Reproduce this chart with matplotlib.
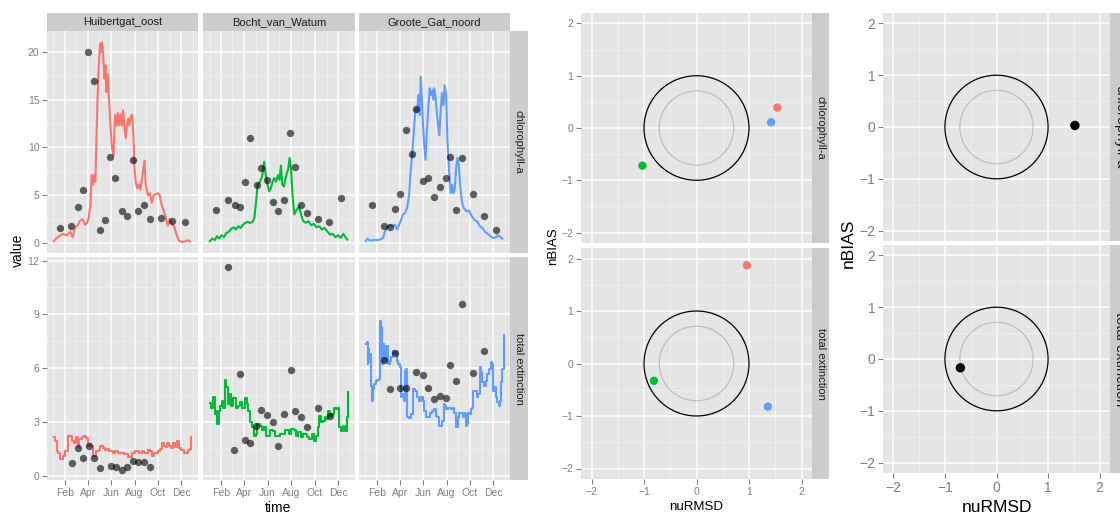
import numpy as np
import matplotlib
matplotlib.use("Agg")
import matplotlib.pyplot as plt
import matplotlib.dates as mdates
from matplotlib.ticker import MultipleLocator

plt.rcParams['font.family'] = ['Liberation Sans', 'DejaVu Sans']

# ---------------------------------------------------------------- data
stations = ['Huibertgat_oost', 'Bocht_van_Watum', 'Groote_Gat_noord']
variables = ['chlorophyll-a', 'total extinction']
station_colors = ['#F8766D', '#00BA38', '#619CFF']

# model series (day of year, value)
chl_hub_day = [0.5, 11, 24, 35, 44, 50, 56, 63, 69, 76, 82.5, 88, 92, 96.5, 100, 103, 107, 109.5, 113, 116,
               118, 122, 124, 127, 130, 133, 136, 138, 142, 144.5, 149, 153, 157, 161, 164.5, 168, 171.5, 175,
               178.5, 182, 185.5, 189, 191.5, 195, 198.5, 202, 205.5, 209, 212, 215, 219, 223, 227.5, 232, 235,
               238, 241, 247, 252, 257, 262, 268, 273, 278, 281.5, 287, 292, 299, 304, 310, 316, 323, 329.5,
               341, 350, 357]
chl_hub_val = [0.17, 0.6, 0.94, 0.8, 1.15, 0.6, 1.57, 1.84, 2.3, 2.5, 1.9, 2.1, 2.6, 4.0, 7.1, 6.1, 7.1, 6.4, 12, 16.2,
               18.3, 20.9, 20, 21, 19.7, 17.2, 18.6, 15.8, 17.7, 15.5, 12.3, 9.9, 9.2, 13.4, 12.3, 13.6, 12.3, 13.5,
               12.3, 13.9, 12, 11, 12, 13, 12.3, 13.2, 13.4, 11.3, 7.8, 6.4, 5.7, 6.1, 5.6, 6.8, 7.8,
               8.6, 6.1, 5.0, 5.2, 4.2, 5.0, 5.1, 5.2, 5.0, 4.2, 3.5, 2.9, 1.8, 2.5, 2.0, 1.7, 0.7, 0.17,
               0.1, 0.28, 0.17]
chl_bvw_day = [0.5, 7.4, 13.5, 19.6, 25, 31, 37, 44, 51, 57, 63, 68.5, 74.6, 81, 86, 92, 99, 105, 112, 116.5,
               121, 125, 131, 136.6, 142, 146, 150.6, 155, 159, 163.7, 168, 173, 177.7, 182, 185.5, 189, 193.4,
               197.7, 201, 204.7, 208, 211.7, 215, 220, 227, 232.7, 237, 243, 250, 257, 264, 271, 278, 285, 292,
               299, 306, 313, 320, 327, 334, 341, 348, 353, 358]
chl_bvw_val = [0.17, 0.45, 0.3, 0.7, 0.45, 0.8, 0.6, 1.04, 1.2, 1.5, 1.63, 1.4, 1.74, 1.57, 1.84, 2.09, 2.2, 2.09, 2.2, 2.6,
               4.35, 6.1, 6.4, 6.96, 8.5, 7.1, 6.1, 5.4, 5.7, 6.37, 6.8, 6.4, 7.1, 6.6, 8.1, 6.1, 5.9,
               6.8, 7.3, 7.8, 8.9, 7.8, 5.4, 3.0, 3.5, 3.8, 3.1, 2.3, 2.1, 2.26, 1.84, 2.0, 1.63, 1.74, 1.4,
               1.57, 1.2, 0.87, 0.94, 0.6, 0.8, 0.52, 0.94, 0.6, 0.35]
chl_ggn_day = [0.5, 5, 11, 22, 35, 46, 51, 57, 63, 70, 77, 82.5, 88, 93, 98, 103, 108.7, 114, 118, 122.7,
               127, 131, 135, 138, 142, 144.5, 147, 150, 153, 157, 160, 164.6, 168, 171.5, 175, 178, 180, 184,
               187, 191, 193, 197, 200, 204, 207, 211, 214, 218.7, 223, 227, 230, 233.5, 237, 240.5, 244, 247.5,
               252, 257, 264, 271, 278, 285, 292, 299, 306, 313, 320, 327, 334, 341, 348, 353, 358]
chl_ggn_val = [0.17, 0.45, 0.24, 0.3, 0.3, 0.52, 1.2, 1.63, 1.84, 1.74, 1.9, 1.4, 1.9, 2.4, 2.96, 3.1, 3.65, 5.0, 7.5, 9.6,
               12, 14.1, 13.7, 15.5, 13.4, 17.4, 15.5, 12.7, 10.6, 8.7, 11.3, 14.4, 16.2, 15.5, 16, 15, 16.2, 15,
               13.4, 12, 11.3, 14.1, 15.7, 14.4, 16.5, 15.5, 11, 7.5, 5.2, 6.1, 5.2, 5.7, 7.8, 8.9, 8.2, 6.1,
               4.35, 3.65, 3.3, 3.37, 2.8, 2.4, 2.26, 1.74, 1.57, 1.15, 0.94, 0.7, 0.52, 0.6, 0.8, 0.6, 0.45]

ext_hub_day = [0.5, 5, 8, 12.7, 18, 24, 30, 35, 39, 46, 49, 54.6, 58, 63, 67, 74, 79, 84, 89.5, 93,
               98, 103.5, 109, 112, 119, 122.7, 129.6, 135, 140, 145, 150.6, 156, 161, 168, 175, 180, 185.5,
               191, 196, 201, 205, 212, 217, 224, 231, 236, 241, 247, 252, 257, 262, 267.6, 273, 278, 283,
               288.5, 294, 297, 302.5, 308, 313, 318, 323.5, 329, 334, 341, 346, 351, 356.6, 360]
ext_hub_val = [2.18, 1.95, 1.4, 1.3, 0.93, 1.12, 1.4, 1.4, 2.23, 2.23, 1.95, 1.86, 2.14, 1.62, 2.05, 2.18, 2.23, 2.1, 1.67, 1.77,
               1.67, 1.12, 1.12, 1.4, 1.43, 1.67, 1.58, 1.43, 1.49, 1.36, 1.36, 1.25, 1.36, 1.25, 1.25, 1.3, 1.21,
               1.21, 1.06, 1.06, 1.3, 1.4, 1.36, 1.3, 1.4, 1.3, 1.25, 1.43, 1.36, 1.12, 1.3, 1.25, 1.4, 1.49, 1.86,
               1.67, 1.62, 1.86, 1.67, 1.58, 1.86, 1.62, 1.95, 1.58, 1.43, 1.25, 1.25, 1.43, 1.49, 2.14]
ext_bvw_day = [0.5, 5, 9, 13.5, 18, 20.5, 24, 28.4, 33, 36, 40, 44, 48.5, 53, 57, 62, 67.7, 74.6, 80, 85,
               92, 96.5, 101, 104, 109.6, 114.8, 120, 123.6, 130.5, 135.8, 141, 146, 151.5, 157, 163.7, 170.7,
               177.7, 183, 189.9, 195, 200, 205.6, 212.6, 219.6, 225, 230, 237, 242, 249, 254.5, 259.7, 265,
               272, 275.4, 280.7, 284, 289.4, 294.6, 300, 303, 308.6, 312, 317, 322.6, 327.8, 333, 336.6,
               341.8, 347, 352, 356, 359, 361]
ext_bvw_val = [4.04, 3.8, 4.37, 3.44, 3.63, 2.88, 3.63, 3.9, 4.19, 3.81, 5.34, 4.93, 4.0, 4.56, 3.9, 4.33, 3.81, 3.9, 4.09, 3.81,
               4.33, 4.0, 3.63, 2.98, 2.7, 2.23, 2.33, 2.88, 2.79, 2.55, 2.7, 2.23, 2.23, 2.55, 2.51, 2.23,
               2.23, 2.36, 2.33, 2.55, 2.55, 2.33, 2.6, 2.55, 2.23, 2.42, 2.14, 2.33, 2.36, 2.18, 2.05, 2.33,
               1.95, 2.23, 2.7, 3.35, 2.98, 3.07, 3.26, 3.16, 3.63, 3.35, 3.44, 3.78, 3.72, 3.78, 2.7,
               2.51, 2.79, 2.51, 3.26, 3.44, 4.65]
ext_ggn_day = [0.5, 3, 5.7, 7.4, 10, 12.7, 15.3, 18, 20.5, 23, 26.6, 30, 35, 38, 40.6, 43, 46, 49, 53, 56,
               59.8, 63, 67, 70.7, 74, 77, 82.5, 86, 89.5, 93, 96.5, 100, 103.5, 107, 109.6, 114, 119, 124.4,
               129.6, 135, 140, 145, 150.6, 154, 159, 164.6, 170, 175, 180, 183.8, 187, 191, 196, 201, 204.7,
               208, 211.7, 217, 224, 229, 232.7, 236, 241, 245, 250, 255, 259, 262, 266, 269, 272.8, 276,
               279.8, 281.5, 286.8, 292, 295.5, 299, 302.5, 306, 310, 314.7, 319, 323.5, 327, 330, 334,
               337.4, 341, 344, 348, 351, 355, 358, 361]
ext_ggn_val = [7.35, 7.44, 6.23, 7.07, 6.33, 6.79, 5.02, 4.19, 4.84, 5.12, 5.3, 5.34, 5.4, 8.65, 8.28, 6.23, 7.35, 6.42, 7.26, 7.26,
               6.23, 6.42, 6.6, 6.98, 6.79, 6.88, 6.42, 6.23, 6.05, 4.37, 4.56, 4.19, 5.86, 5.95, 3.26, 3.22, 3.44, 4.84,
               4.74, 4.37, 4.19, 4.37, 4.19, 3.63, 3.26, 3.26, 3.53, 3.63, 3.72, 3.35, 3.26, 2.79, 2.79, 3.07, 4.0,
               3.9, 3.72, 3.78, 3.72, 3.78, 3.48, 2.7, 3.26, 3.53, 3.48, 3.26, 3.53, 2.79, 2.88, 3.48, 3.44, 3.72,
               3.81, 4.74, 4.74, 4.37, 4.56, 6.05, 5.77, 5.21, 5.02, 5.3, 5.67, 5.95, 6.33, 6.23, 4.74,
               4.93, 4.37, 4.09, 3.9, 4.19, 5.21, 5.95, 7.87]

# observations (day of year, value)
obs_chl_hub_day = [17, 46, 63, 78, 89.5, 105, 121, 134, 149, 162, 178, 192.5, 209, 220.5, 236, 252, 281, 309, 343]
obs_chl_hub_val = [1.57, 1.77, 3.76, 5.57, 20.0, 17.0, 1.39, 2.37, 8.97, 6.78, 3.3, 2.78, 8.66, 3.37, 4.0, 2.5, 2.57, 2.26, 2.19]
obs_chl_bvw_day = [18, 47.6, 65, 79, 92, 105, 122.7, 134, 150, 164, 178.5, 194, 210, 222, 238, 253.6, 282, 311, 342]
obs_chl_bvw_val = [3.48, 4.52, 4.0, 3.76, 6.4, 11.0, 6.1, 7.83, 6.57, 4.28, 3.3, 4.45, 11.5, 7.9, 4.0, 3.1, 2.5, 2.23, 4.7]
obs_chl_ggn_day = [18, 47.6, 63, 77, 91, 105, 122, 133, 150, 164, 178.5, 194, 210, 222, 238, 253.6, 281.5, 311, 342.6]
obs_chl_ggn_val = [4.0, 1.77, 1.67, 3.6, 5.1, 11.8, 9.3, 14.0, 6.5, 6.8, 4.8, 5.9, 6.85, 9.0, 3.48, 8.9, 5.1, 2.78, 1.32]
obs_ext_hub_day = [47.6, 63, 78, 92, 105, 121, 150, 163, 178.5, 193, 208, 222, 238, 252]
obs_ext_hub_val = [0.74, 1.53, 1.02, 1.66, 0.97, 0.43, 0.54, 0.47, 0.32, 0.47, 0.84, 0.8, 0.8, 0.47]
obs_ext_bvw_day = [46.7, 64, 79, 91, 105, 120, 133, 149.7, 163.7, 178.5, 193, 211, 221, 238, 252.7, 282, 312]
obs_ext_bvw_val = [11.63, 1.43, 5.66, 1.99, 1.86, 2.79, 3.68, 3.39, 3.01, 1.64, 3.44, 5.88, 3.61, 3.26, 2.75, 3.81, 3.33]
obs_ext_ggn_day = [47.6, 64, 77, 91, 106, 133, 150, 163, 179, 194, 210, 221, 238, 253, 281, 311]
obs_ext_ggn_val = [6.47, 4.82, 6.87, 4.89, 4.89, 5.8, 5.62, 4.89, 4.28, 4.43, 4.32, 6.2, 5.28, 9.58, 5.73, 6.98]

# target diagram, one value per station (red, green, blue)
chl_nurmsd = [1.54, -1.03, 1.42]
chl_nbias = [0.39, -0.72, 0.11]
ext_nurmsd = [0.96, -0.81, 1.36]
ext_nbias = [1.87, -0.33, -0.82]
# target diagram, all stations together
all_nurmsd = [1.52, -0.70]
all_nbias = [0.03, -0.17]

# ---------------------------------------------------------------- layout
W, H = 1120, 514
PANEL = '#E5E5E5'
STRIP = '#CCCCCC'
MINOR = '#F2F2F2'
TICK = '#7F7F7F'
base = np.datetime64('2009-01-01T00:00')

fig = plt.figure(figsize=(W / 100, H / 100), dpi=100)


def box(x0, y0, x1, y1):
    return [x0 / W, 1 - y1 / H, (x1 - x0) / W, (y1 - y0) / H]


def to_dates(days):
    return base + (np.array(days) * 1440).astype('timedelta64[m]')


def style(ax, size):
    ax.set_facecolor(PANEL)
    for s in ax.spines.values():
        s.set_visible(False)
    ax.grid(which='major', color='white', lw=1.1)
    ax.grid(which='minor', color=MINOR, lw=0.6)
    ax.set_axisbelow(True)
    ax.tick_params(which='major', length=3.5, width=0.8, color=TICK,
                   labelcolor=TICK, labelsize=size, pad=2)
    ax.tick_params(which='minor', length=0)


def strip(rect, text, size, rot=0):
    sa = fig.add_axes(box(*rect))
    sa.set_facecolor(STRIP)
    sa.set_xticks([])
    sa.set_yticks([])
    for s in sa.spines.values():
        s.set_visible(False)
    sa.text(0.5, 0.5, text, ha='center', va='center', rotation=rot,
            fontsize=size, color='#1A1A1A', transform=sa.transAxes)


# ---- left: time series facets
cols = [(47, 198), (203, 355), (359, 510)]
rows = [(31, 253), (257, 480)]
model = [[(chl_hub_day, chl_hub_val), (chl_bvw_day, chl_bvw_val), (chl_ggn_day, chl_ggn_val)],
         [(ext_hub_day, ext_hub_val), (ext_bvw_day, ext_bvw_val), (ext_ggn_day, ext_ggn_val)]]
obs = [[(obs_chl_hub_day, obs_chl_hub_val), (obs_chl_bvw_day, obs_chl_bvw_val), (obs_chl_ggn_day, obs_chl_ggn_val)],
       [(obs_ext_hub_day, obs_ext_hub_val), (obs_ext_bvw_day, obs_ext_bvw_val), (obs_ext_ggn_day, obs_ext_ggn_val)]]
ylims = [(-1.06, 22.2), (-0.23, 12.2)]
ysteps = [5, 3]

for r, (y0, y1) in enumerate(rows):
    for c, (x0, x1) in enumerate(cols):
        ax = fig.add_axes(box(x0, y0, x1, y1))
        style(ax, 7.5)
        d, v = model[r][c]
        ax.plot(to_dates(d), v, color=station_colors[c], lw=1.5,
                drawstyle='steps-post' if r == 1 else 'default', zorder=2)
        od, ov = obs[r][c]
        ax.plot(to_dates(od), ov, 'o', color='black', alpha=0.6, ms=5.3, mec='none', zorder=3)
        ax.set_xlim(base - np.timedelta64(17, 'D'), base + np.timedelta64(378, 'D'))
        ax.set_ylim(*ylims[r])
        ax.yaxis.set_major_locator(MultipleLocator(ysteps[r]))
        ax.yaxis.set_minor_locator(MultipleLocator(ysteps[r] / 2))
        ax.xaxis.set_major_locator(mdates.MonthLocator(bymonth=[2, 4, 6, 8, 10, 12]))
        ax.xaxis.set_minor_locator(mdates.MonthLocator(bymonth=[1, 3, 5, 7, 9, 11]))
        ax.xaxis.set_major_formatter(mdates.DateFormatter('%b'))
        if c > 0:
            ax.tick_params(left=False, labelleft=False)
        if r == 0:
            ax.tick_params(bottom=False, labelbottom=False)
            strip((x0, 13, x1, 31), stations[c], 8)
    strip((510, y0, 528, y1), variables[r], 8, rot=270)

fig.text(18 / W, 1 - 250 / H, 'value', rotation=90, ha='center', va='center', fontsize=10)
fig.text(278 / W, 1 - 508 / H, 'time', ha='center', va='center', fontsize=10)

# ---- target diagrams
theta = np.linspace(0, 2 * np.pi, 361)


def target(rect, xs, ys, colors, size, dot, strip_rect, label, show_x):
    ax = fig.add_axes(box(*rect))
    style(ax, size)
    ax.plot(np.cos(theta), np.sin(theta), color='black', lw=0.9,
            solid_capstyle='butt', solid_joinstyle='round', zorder=2)
    ax.plot(0.71 * np.cos(theta), 0.71 * np.sin(theta), color='#BEBEBE', lw=0.9,
            solid_capstyle='butt', solid_joinstyle='round', zorder=2)
    ax.scatter(xs, ys, c=colors, s=dot, edgecolors='none', zorder=3)
    ax.set_xlim(-2.2, 2.2)
    ax.set_ylim(-2.2, 2.2)
    ax.xaxis.set_major_locator(MultipleLocator(1))
    ax.xaxis.set_minor_locator(MultipleLocator(0.5))
    ax.yaxis.set_major_locator(MultipleLocator(1))
    ax.yaxis.set_minor_locator(MultipleLocator(0.5))
    if not show_x:
        ax.tick_params(bottom=False, labelbottom=False)
    strip(strip_rect, label, size + 0.5, rot=270)
    return ax


target((581, 13, 812, 243), chl_nurmsd, chl_nbias, station_colors, 7.5, 36,
       (812, 13, 829, 243), variables[0], False)
target((581, 248, 812, 479), ext_nurmsd, ext_nbias, station_colors, 7.5, 36,
       (812, 248, 829, 479), variables[1], True)
fig.text(553 / W, 1 - 246 / H, 'nBIAS', rotation=90, ha='center', va='center', fontsize=9.5)
fig.text(696 / W, 1 - 507 / H, 'nuRMSD', ha='center', va='center', fontsize=9.5)

# the right-hand picture is cropped at the figure edge, as in the source
target((883, 13, 1110, 241), all_nurmsd[:1], all_nbias[:1], ['black'], 10, 46,
       (1110, 13, 1131, 241), variables[0], False)
target((883, 245, 1110, 473), all_nurmsd[1:], all_nbias[1:], ['black'], 10, 46,
       (1110, 245, 1131, 473), variables[1], True)
fig.text(848 / W, 1 - 243 / H, 'nBIAS', rotation=90, ha='center', va='center', fontsize=12.5)
fig.text(997 / W, 1 - 508 / H, 'nuRMSD', ha='center', va='center', fontsize=12.5)

fig.savefig('out.png', dpi=100, facecolor='white')
